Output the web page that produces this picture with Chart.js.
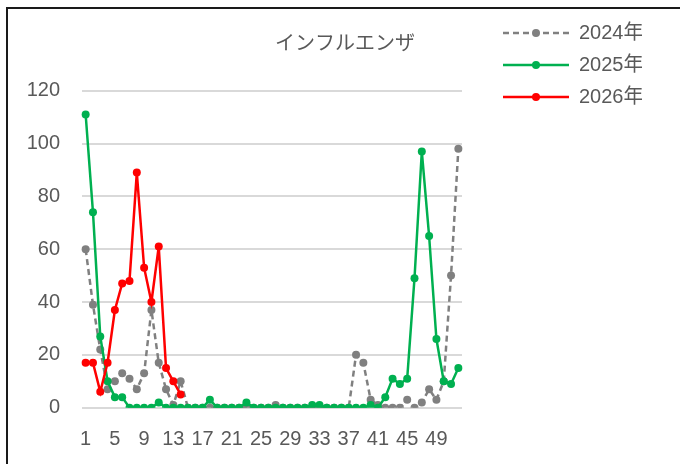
<!DOCTYPE html>
<html><head><meta charset="utf-8">
<script src="https://cdn.jsdelivr.net/npm/chart.js@4"></script>
<style>
html,body{margin:0;padding:0;background:#fff;overflow:hidden;}
#wrap{position:relative;width:680px;height:464px;}
#frame{position:absolute;left:6px;top:7px;width:800px;height:600px;border:2px solid #1a1a1a;pointer-events:none;}
canvas{position:absolute;left:0;top:0;}
</style></head><body>
<div id="wrap"><canvas id="c" width="680" height="464"></canvas><div id="frame"></div></div>
<script>
const chartTitle = 'インフルエンザ';
const weeks = ['1','2','3','4','5','6','7','8','9','10','11','12','13','14','15','16','17','18','19','20','21','22','23','24','25','26','27','28','29','30','31','32','33','34','35','36','37','38','39','40','41','42','43','44','45','46','47','48','49','50','51','52'];
const seriesNames = ['2024年','2025年','2026年'];
const values2024 = [60,39,22,7,10,13,11,7,13,37,17,7,1,10,0,0,0,0,0,0,0,0,0,0,0,0,1,0,0,0,0,0,0,0,0,0,0,20,17,3,1,0,0,0,3,0,2,7,3,10,50,98];
const values2025 = [111,74,27,10,4,4,0,0,0,0,2,0,0,0,0,0,0,3,0,0,0,0,2,0,0,0,0,0,0,0,0,1,1,0,0,0,0,0,0,1,0,4,11,9,11,49,97,65,26,10,9,15];
const values2026 = [17,17,6,17,37,47,48,89,53,40,61,15,10,5];
const yMin = 0, yMax = 120, yStep = 20;
const xLabelEvery = 4;

const colors = ['#808080', '#00b050', '#ff0000'];
const dashes = [[6, 4], [], []];
const FONT = '"Liberation Sans", "Noto Sans CJK JP", sans-serif';
const TEXT = '#595959';
const TITLE_CENTER_X = 345;

function makeSample(color, dash) {
  const c = document.createElement('canvas');
  c.width = 95; c.height = 12;
  const g = c.getContext('2d');
  g.strokeStyle = color; g.lineWidth = 2.5; g.setLineDash(dash);
  g.beginPath(); g.moveTo(29, 6); g.lineTo(95, 6); g.stroke();
  g.setLineDash([]); g.fillStyle = color;
  g.beginPath(); g.arc(29 + 33, 6, 4, 0, Math.PI * 2); g.fill();
  return c;
}
const samples = colors.map((c, i) => makeSample(c, dashes[i]));

function ds(label, data, i, order) {
  return {
    label, data, order,
    borderColor: colors[i], backgroundColor: colors[i],
    borderWidth: 2.5, borderDash: dashes[i],
    pointRadius: 4, pointBorderWidth: 0, pointBackgroundColor: colors[i],
    pointHoverRadius: 4, tension: 0, spanGaps: false
  };
}

const titleShift = {
  id: 'titleShift',
  afterLayout(chart) {
    const t = chart.titleBlock;
    if (!t) return;
    const d = TITLE_CENTER_X - (t.left + t.right) / 2;
    t.left += d; t.right += d;
  }
};

Chart.defaults.font.family = FONT;
Chart.defaults.color = TEXT;

new Chart(document.getElementById('c'), {
  type: 'line',
  data: {
    labels: weeks,
    datasets: [
      ds(seriesNames[0], values2024, 0, 3),
      ds(seriesNames[1], values2025, 1, 2),
      ds(seriesNames[2], values2026, 2, 1)
    ]
  },
  plugins: [titleShift],
  options: {
    responsive: false, animation: false,
    layout: { padding: { top: 11, left: 14, right: 38, bottom: 0 } },
    plugins: {
      title: {
        display: true, text: chartTitle, position: 'top', fullSize: true,
        color: TEXT, font: { family: '"Noto Sans CJK JP", sans-serif', size: 20, weight: 'normal', lineHeight: 1.2 },
        padding: { top: 19, bottom: 36.7 }
      },
      legend: {
        display: true, position: 'right', align: 'start', fullSize: true, maxWidth: 180,
        labels: {
          usePointStyle: true, pointStyleWidth: 95, boxHeight: 12, padding: 12,
          color: TEXT, font: { size: 20 },
          sort: (a, b) => a.datasetIndex - b.datasetIndex,
          generateLabels(chart) {
            const items = Chart.defaults.plugins.legend.labels.generateLabels(chart);
            items.forEach(it => { it.pointStyle = samples[it.datasetIndex]; it.rotation = 0; });
            return items;
          }
        }
      },
      tooltip: { enabled: false }
    },
    scales: {
      x: {
        type: 'category', offset: true,
        grid: { display: false, drawTicks: false },
        border: { display: false },
        ticks: {
          autoSkip: false, maxRotation: 0, minRotation: 0, padding: 20,
          color: TEXT, font: { size: 20 },
          callback(v, i) { return i % xLabelEvery === 0 ? weeks[i] : ''; }
        },
        afterFit(s) { s.height = 56.3; }
      },
      y: {
        min: yMin, max: yMax,
        grid: { color: '#d9d9d9', lineWidth: 2, drawTicks: false },
        border: { display: false },
        ticks: { stepSize: yStep, padding: 22, color: TEXT, font: { size: 20 } },
        afterFit(s) { s.width = 68; }
      }
    }
  }
});
</script>
</body></html>
